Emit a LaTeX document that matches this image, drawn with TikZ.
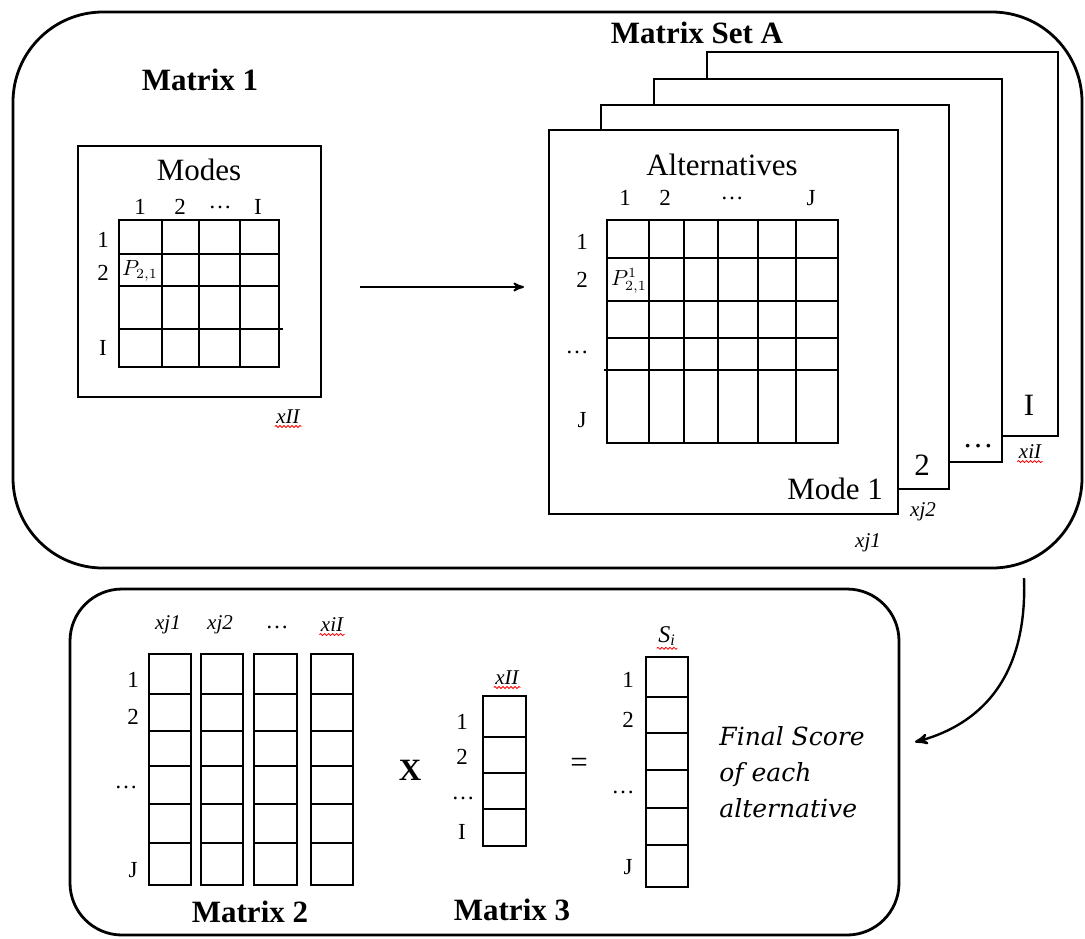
\documentclass[tikz,border=0pt]{standalone}
\usepackage{fontspec}
\setmainfont{Liberation Serif}
\newfontfamily\scorefont{DejaVu Serif}
\usetikzlibrary{arrows,decorations.pathmorphing}

\tikzset{
  panel/.style={draw, line width=1.4pt, rounded corners=45pt},
  sheet/.style={draw, fill=white, line width=0.8pt},
  cell/.style={line width=0.9pt},
  title/.style={font=\fontsize{15.5}{18}\selectfont\bfseries},
  head/.style={font=\fontsize{15.5}{18}\selectfont},
  idx/.style={font=\fontsize{11.5}{14}\selectfont, inner sep=0pt},
  var/.style={font=\fontsize{10.5}{12}\selectfont\itshape, inner sep=0.6pt},
  elem/.style={font=\fontsize{10.5}{11}\selectfont, inner sep=0pt},
  spell/.style={red, line width=0.4pt, decorate,
                decoration={snake, amplitude=0.5pt, segment length=2pt}}
}

\begin{document}
\begin{tikzpicture}[x=0.5pt,y=-0.5pt,>=stealth']
  \useasboundingbox (0,0) rectangle (1085,938);

  % the two panels
  \draw[panel] (13,12) rectangle (1082,568);
  \draw[panel, rounded corners=26pt] (70,589) rectangle (899,935);

  % Matrix 1
  \node[title] (mone) at (200,80) {Matrix 1};
  \draw[sheet] (78,146) rectangle (321,397);
  \node[head] (modes) at (199,170) {Modes};
  \node[idx] (mc1) at (140,207) {1};
  \node[idx] (mc2) at (180,207) {2};
  \node[idx] (mc3) at (220,207) {\dots};
  \node[idx] (mc4) at (258,207) {I};
  \node[idx] (mr1) at (103,240) {1};
  \node[idx] (mr2) at (103,273) {2};
  \node[idx] (mr3) at (103,348) {I};
  \draw[cell] (119,220) rectangle (279,367);
  \foreach \x in {162,199,240} \draw[cell] (\x,220) -- (\x,367);
  \foreach \y in {254,286} \draw[cell] (119,\y) -- (279,\y);
  \draw[cell] (119,329) -- (283,329);
  \node[elem] (pone) at (140,271) {$P_{2,1}$};
  \node[var] (xii) at (288,417) {xII};
  \draw[spell] ([yshift=-0.5pt]xii.south west) -- ([yshift=-0.5pt]xii.south east);

  % arrow to the set
  \coordinate (arrS) at (360,287);
  \coordinate (arrE) at (524,287);
  \draw[->, line width=0.9pt] (arrS) -- (arrE);

  % Matrix Set A, back to front
  \node[title] (mseta) at (697,33) {Matrix Set A};
  \draw[sheet] (707,52) rectangle (1058,436);
  \draw[sheet] (654,79) rectangle (1002,462);
  \draw[sheet] (601,105) rectangle (949,489);
  \draw[sheet] (549,130) rectangle (898,514);
  \node[head] (modeI) at (1029,405) {I};
  \node[head] (modeD) at (978,446) {\dots};
  \node[head] (modeT) at (922,465) {2};
  \node[head, anchor=east] (modeO) at (890,489) {Mode 1};
  \node[var] (xiI) at (1030,452) {xiI};
  \draw[spell] ([yshift=-0.5pt]xiI.south west) -- ([yshift=-0.5pt]xiI.south east);
  \node[var] (xjt) at (923,512) {xj2};
  \node[var] (xjo) at (868,543) {xj1};

  \node[head] (alts) at (722,165) {Alternatives};
  \node[idx] (ac1) at (625,198) {1};
  \node[idx] (ac2) at (665,198) {2};
  \node[idx] (ac3) at (732,198) {\dots};
  \node[idx] (ac4) at (811,198) {J};
  \node[idx] (ar1) at (582,242) {1};
  \node[idx] (ar2) at (582,280) {2};
  \node[idx] (ar3) at (577,352) {\dots};
  \node[idx] (ar4) at (582,420) {J};
  \draw[cell] (607,220) rectangle (838,443);
  \foreach \x in {649,684,718,758,796} \draw[cell] (\x,220) -- (\x,443);
  \foreach \y in {258,301,338} \draw[cell] (607,\y) -- (838,\y);
  \draw[cell] (604,370) -- (838,370);
  \node[elem] (pset) at (629,281) {$P^{1}_{2,1}$};

  % arrow down to the result
  \coordinate (curS) at (1024,578);
  \coordinate (curE) at (915,742);
  \draw[->, line width=1.2pt] (curS) .. controls (1028,690) and (968,728) .. (curE);

  % Matrix 2
  \node[var] (hx1) at (168,625) {xj1};
  \node[var] (hx2) at (220,625) {xj2};
  \node[idx] (hx3) at (277,627) {\dots};
  \node[var] (hx4) at (332,625) {xiI};
  \draw[spell] ([yshift=-0.5pt]hx4.south west) -- ([yshift=-0.5pt]hx4.south east);
  \foreach \l/\r in {149/191,201/243,254/297,311/353} {
    \draw[cell] (\l,654) rectangle (\r,885);
    \foreach \y in {694,731,766,804,843} \draw[cell] (\l,\y) -- (\r,\y);
  }
  \node[idx] (br1) at (133,680) {1};
  \node[idx] (br2) at (133,717) {2};
  \node[idx] (br3) at (126,787) {\dots};
  \node[idx] (br4) at (133,870) {J};
  \node[title] (mtwo) at (250,912) {Matrix 2};

  \node[title] (times) at (410,770) {X};

  % Matrix 3
  \node[var] (hxii) at (507,678) {xII};
  \draw[spell] ([yshift=-0.5pt]hxii.south west) -- ([yshift=-0.5pt]hxii.south east);
  \draw[cell] (483,696) rectangle (526,846);
  \foreach \y in {737,773,809} \draw[cell] (483,\y) -- (526,\y);
  \node[idx] (cr1) at (462,722) {1};
  \node[idx] (cr2) at (462,757) {2};
  \node[idx] (cr3) at (463,798) {\dots};
  \node[idx] (cr4) at (462,832) {I};
  \node[title] (mthree) at (512,910) {Matrix 3};

  \node[head] (equals) at (579,765) {=};

  % scores
  \node[var, font=\fontsize{12}{14}\selectfont\itshape] (si) at (667,636) {S\textsubscript{i}};
  \draw[spell] ([yshift=-0.5pt]si.south west) -- ([yshift=-0.5pt]si.south east);
  \draw[cell] (646,657) rectangle (688,887);
  \foreach \y in {697,733,770,808,845} \draw[cell] (646,\y) -- (688,\y);
  \node[idx] (sr1) at (628,680) {1};
  \node[idx] (sr2) at (628,720) {2};
  \node[idx] (sr3) at (623,792) {\dots};
  \node[idx] (sr4) at (628,867) {J};

  \node[anchor=west, align=left, inner sep=0pt,
        font=\scorefont\itshape\fontsize{12.5}{18}\selectfont] (score) at (719,772)
        {Final Score\\of each\\alternative};
\end{tikzpicture}
\end{document}
